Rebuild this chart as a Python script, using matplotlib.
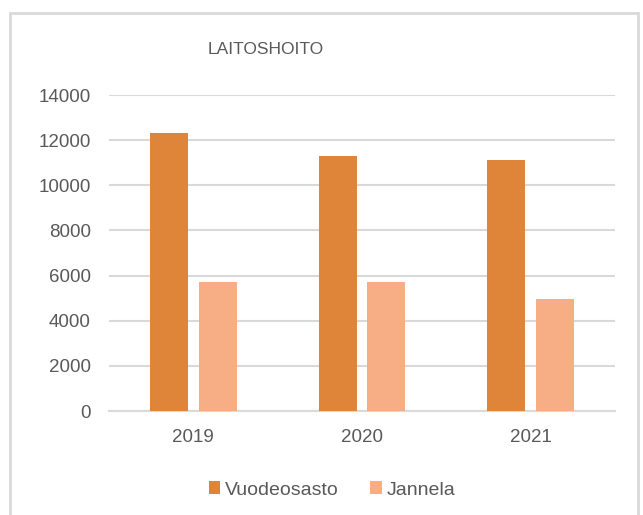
import matplotlib
matplotlib.use("Agg")
import matplotlib.pyplot as plt
from matplotlib.patches import Rectangle
import numpy as np

plt.rcParams['font.family'] = ['Liberation Sans', 'DejaVu Sans']

years = ["2019", "2020", "2021"]
vuodeosasto = [12300, 11300, 11100]
jannela = [5700, 5700, 4970]
series_names = ["Vuodeosasto", "Jannela"]
yticks = [0, 2000, 4000, 6000, 8000, 10000, 12000, 14000]

W, H = 643, 515
fig = plt.figure(figsize=(W / 100, H / 100), dpi=100)
fig.patch.set_facecolor("white")

# chart border
fig.add_artist(Rectangle((10 / W, -0.05), (638 - 10) / W, 1.05 - 13 / H,
                         transform=fig.transFigure, fill=False,
                         edgecolor="#D9D9D9", linewidth=2))

left, right, bottom, top = 109, 615, 411, 95
ax = fig.add_axes([left / W, 1 - bottom / H, (right - left) / W, (bottom - top) / H])

x = np.arange(len(years))
w = 0.225
off = 0.145
ax.bar(x - off, vuodeosasto, w, color="#DE853A", label=series_names[0], zorder=3)
ax.bar(x + off, jannela, w, color="#F7AE84", label=series_names[1], zorder=3)

ax.set_xlim(-0.5, len(years) - 0.5)
ax.set_ylim(0, 14000)
ax.set_yticks(yticks)
ax.set_yticklabels([str(v) for v in yticks])
ax.set_xticks(x)
ax.set_xticklabels(years)
ax.yaxis.grid(True, color="#D9D9D9", linewidth=1.5, zorder=0)
ax.set_axisbelow(True)
for s in ["top", "right", "left"]:
    ax.spines[s].set_visible(False)
ax.spines["bottom"].set_color("#D9D9D9")
ax.spines["bottom"].set_linewidth(1.5)
ax.tick_params(axis="both", length=0, labelsize=13.5, labelcolor="#595959")
ax.tick_params(axis="y", pad=13)
ax.tick_params(axis="x", pad=13)

fig.text(266 / W, 1 - 49 / H, "LAITOSHOITO", ha="center", va="center",
         fontsize=12.5, color="#595959")

handles, labels = ax.get_legend_handles_labels()
fig.legend(handles, labels, loc="center", bbox_to_anchor=(332 / W, 1 - 490 / H),
           ncol=2, frameon=False, fontsize=14, handlelength=0.6, handleheight=0.6,
           handletextpad=0.25, columnspacing=1.6, labelcolor="#595959")

fig.savefig("out.png", dpi=100)
